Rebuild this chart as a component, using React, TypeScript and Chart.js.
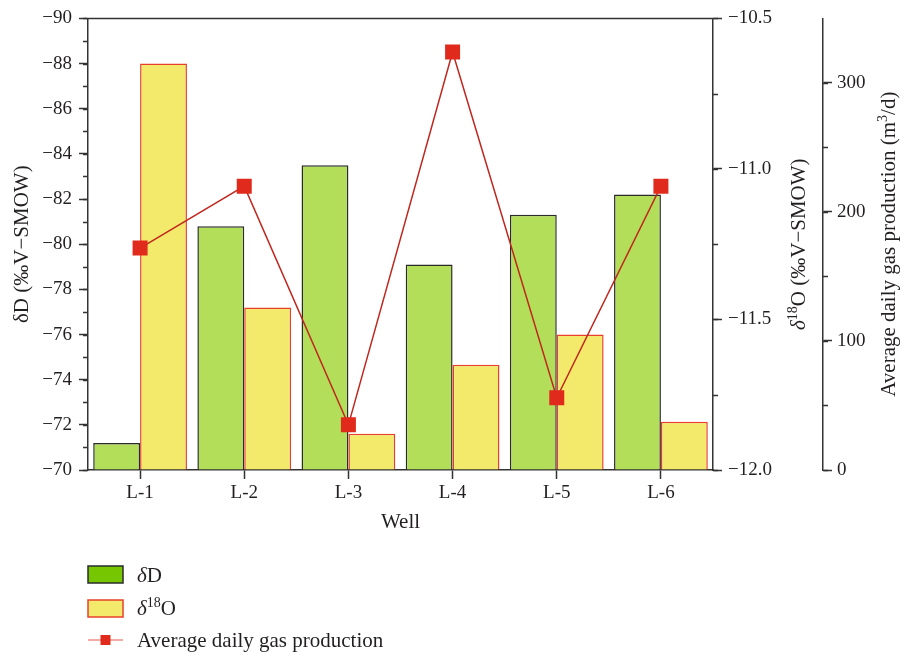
import React, { useEffect, useRef } from 'react';
import { Chart, registerables } from 'chart.js';

Chart.register(...registerables);

// ---- data ----
const wells = ['L-1', 'L-2', 'L-3', 'L-4', 'L-5', 'L-6'];
const deltaD = [-71.2, -80.8, -83.5, -79.1, -81.3, -82.2];
const delta18O = [-10.65, -11.46, -11.88, -11.65, -11.55, -11.84];
const gasProduction = [172, 220, 35, 324, 56, 220];

const deltaDRange = [-90, -70];
const delta18ORange = [-12, -10.5];
const gasRange = [0, 350];

// ---- styles ----
const FONT = "'Liberation Serif', 'DejaVu Serif', serif";
const TEXT = '#231f20';
const AXIS = '#333333';
const GREEN = '#b3de5a';
const GREEN_LEGEND = '#76c602';
const GREEN_BORDER = '#2b2b2b';
const YELLOW = '#f3e96a';
const YELLOW_BORDER = '#e8402c';
const LINE = '#c0281f';
const MARK = '#df2a1c';

const TICK_SIZE = 19;
const TITLE_SIZE = 21;

type Seg = { text: string; sup?: boolean; italic?: boolean };

function drawRich(
  ctx: CanvasRenderingContext2D,
  segs: Seg[],
  x: number,
  y: number,
  size: number,
  rotation: number,
  align: 'center' | 'left'
) {
  ctx.save();
  ctx.translate(x, y);
  ctx.rotate(rotation);
  ctx.fillStyle = TEXT;
  ctx.textBaseline = 'alphabetic';
  ctx.textAlign = 'left';
  const fontOf = (s: Seg) =>
    `${s.italic ? 'italic ' : ''}${s.sup ? Math.round(size * 0.65) : size}px ${FONT}`;
  let total = 0;
  const widths: number[] = [];
  for (const s of segs) {
    ctx.font = fontOf(s);
    const w = ctx.measureText(s.text).width;
    widths.push(w);
    total += w;
  }
  let cx = align === 'center' ? -total / 2 : 0;
  const base = size * 0.33;
  segs.forEach((s, i) => {
    ctx.font = fontOf(s);
    ctx.fillText(s.text, cx, base + (s.sup ? -size * 0.38 : 0));
    cx += widths[i];
  });
  ctx.restore();
}

const fmt = (v: number, d: number) => (v < 0 ? '\u2212' : '') + Math.abs(v).toFixed(d);

const decorPlugin = {
  id: 'decor',
  afterDraw(chart: any) {
    const ctx: CanvasRenderingContext2D = chart.ctx;
    const area = chart.chartArea;
    const sy = chart.scales.y;
    const sy1 = chart.scales.y1;
    const sy2 = chart.scales.y2;

    ctx.save();
    ctx.strokeStyle = AXIS;
    ctx.lineWidth = 1.5;
    // top border
    ctx.beginPath();
    ctx.moveTo(area.left, area.top);
    ctx.lineTo(area.right, area.top);
    ctx.stroke();

    // minor ticks
    const minor = (scale: any, from: number, to: number, step: number, xEdge: number, dir: number) => {
      ctx.beginPath();
      for (let v = from; v <= to + 1e-9; v += step) {
        const py = Math.round(scale.getPixelForValue(v)) + 0.5;
        ctx.moveTo(xEdge, py);
        ctx.lineTo(xEdge + dir * 5, py);
      }
      ctx.stroke();
    };
    minor(sy, deltaDRange[0], deltaDRange[1], 1, sy.right, -1);
    minor(sy1, delta18ORange[0], delta18ORange[1], 0.25, sy1.left, 1);
    minor(sy2, gasRange[0], 300, 50, sy2.left, 1);
    ctx.restore();

    const cy = (area.top + area.bottom) / 2;
    const cx = (area.left + area.right) / 2;

    // axis titles
    drawRich(ctx, [{ text: 'Well' }], cx, 521, TITLE_SIZE, 0, 'center');
    drawRich(ctx, [{ text: '\u03B4D (\u2030V\u2212SMOW)' }], 21, cy, TITLE_SIZE, -Math.PI / 2, 'center');
    drawRich(
      ctx,
      [{ text: '\u03B4', italic: true }, { text: '18', sup: true }, { text: 'O (\u2030V\u2212SMOW)' }],
      798,
      cy,
      TITLE_SIZE,
      -Math.PI / 2,
      'center'
    );
    drawRich(
      ctx,
      [{ text: 'Average daily gas production (m' }, { text: '3', sup: true }, { text: '/d)' }],
      888,
      cy,
      TITLE_SIZE,
      -Math.PI / 2,
      'center'
    );

    // legend
    const lx = area.left;
    ctx.save();
    ctx.lineWidth = 1.5;
    ctx.fillStyle = GREEN_LEGEND;
    ctx.strokeStyle = GREEN_BORDER;
    ctx.fillRect(lx, 566, 35, 17);
    ctx.strokeRect(lx, 566, 35, 17);
    ctx.fillStyle = YELLOW;
    ctx.strokeStyle = YELLOW_BORDER;
    ctx.fillRect(lx, 600, 35, 17);
    ctx.strokeRect(lx, 600, 35, 17);
    ctx.strokeStyle = '#e8584e';
    ctx.lineWidth = 1.2;
    ctx.beginPath();
    ctx.moveTo(lx, 640);
    ctx.lineTo(lx + 35, 640);
    ctx.stroke();
    ctx.fillStyle = MARK;
    ctx.fillRect(lx + 12.5, 635, 10, 10);
    ctx.restore();

    drawRich(ctx, [{ text: '\u03B4', italic: true }, { text: 'D' }], lx + 49, 575, TITLE_SIZE, 0, 'left');
    drawRich(
      ctx,
      [{ text: '\u03B4', italic: true }, { text: '18', sup: true }, { text: 'O' }],
      lx + 49,
      608,
      TITLE_SIZE,
      0,
      'left'
    );
    drawRich(ctx, [{ text: 'Average daily gas production' }], lx + 49, 640, TITLE_SIZE, 0, 'left');
  },
};

export default function App() {
  const ref = useRef<HTMLCanvasElement | null>(null);

  useEffect(() => {
    if (!ref.current) return;
    Chart.defaults.font.family = FONT;
    Chart.defaults.color = TEXT;

    const axisCommon = {
      grid: { display: true, drawOnChartArea: false, tickLength: 9, tickColor: AXIS, tickWidth: 1.5 },
      border: { display: true, color: AXIS, width: 1.5 },
    };

    const chart = new Chart(ref.current, {
      data: {
        labels: wells,
        datasets: [
          {
            type: 'bar',
            label: '\u03B4D',
            data: deltaD,
            yAxisID: 'y',
            base: deltaDRange[1],
            backgroundColor: GREEN,
            borderColor: GREEN_BORDER,
            borderWidth: 1.5,
            categoryPercentage: 0.9,
            barPercentage: 1,
            order: 2,
          } as any,
          {
            type: 'bar',
            label: '\u03B418O',
            data: delta18O,
            yAxisID: 'y1',
            base: delta18ORange[0],
            backgroundColor: YELLOW,
            borderColor: YELLOW_BORDER,
            borderWidth: 1.5,
            categoryPercentage: 0.9,
            barPercentage: 1,
            order: 2,
          } as any,
          {
            type: 'line',
            label: 'Average daily gas production',
            data: gasProduction,
            yAxisID: 'y2',
            borderColor: LINE,
            borderWidth: 1.5,
            pointStyle: 'rect',
            pointRadius: 10.6,
            pointHoverRadius: 10.6,
            pointBackgroundColor: MARK,
            pointBorderColor: MARK,
            pointBorderWidth: 0,
            tension: 0,
            order: 1,
          } as any,
        ],
      },
      options: {
        responsive: false,
        animation: false,
        layout: { padding: { top: 16, left: 0, right: 0, bottom: 0 } },
        plugins: { legend: { display: false }, tooltip: { enabled: false } },
        scales: {
          x: {
            type: 'category',
            offset: true,
            ...axisCommon,
            grid: { ...axisCommon.grid, offset: false },
            ticks: { color: TEXT, font: { size: TICK_SIZE, family: FONT }, padding: 3, maxRotation: 0 },
            afterFit: (s: any) => {
              s.height = 184;
            },
          },
          y: {
            type: 'linear',
            position: 'left',
            reverse: true,
            min: deltaDRange[0],
            max: deltaDRange[1],
            ...axisCommon,
            ticks: {
              stepSize: 2,
              color: TEXT,
              font: { size: TICK_SIZE, family: FONT },
              padding: 7,
              callback: (v: any) => fmt(Number(v), 0),
            },
            afterFit: (s: any) => {
              s.width = 88;
            },
          },
          y1: {
            type: 'linear',
            position: 'right',
            weight: 0,
            min: delta18ORange[0],
            max: delta18ORange[1],
            ...axisCommon,
            ticks: {
              stepSize: 0.5,
              color: TEXT,
              font: { size: TICK_SIZE, family: FONT },
              padding: 6,
              callback: (v: any) => fmt(Number(v), 1),
            },
            afterFit: (s: any) => {
              s.width = 110;
            },
          },
          y2: {
            type: 'linear',
            position: 'right',
            weight: 1,
            min: gasRange[0],
            max: gasRange[1],
            ...axisCommon,
            ticks: {
              stepSize: 100,
              includeBounds: false,
              color: TEXT,
              font: { size: TICK_SIZE, family: FONT },
              padding: 5,
              callback: (v: any) => String(v),
            },
            afterFit: (s: any) => {
              s.width = 78;
            },
          },
        },
      } as any,
      plugins: [decorPlugin],
    });
    return () => chart.destroy();
  }, []);

  return (
    <div style={{ position: 'absolute', left: 0, top: 0, width: 901, height: 654, background: '#fff' }}>
      <canvas ref={ref} width={901} height={654} style={{ display: 'block' }} />
    </div>
  );
}
